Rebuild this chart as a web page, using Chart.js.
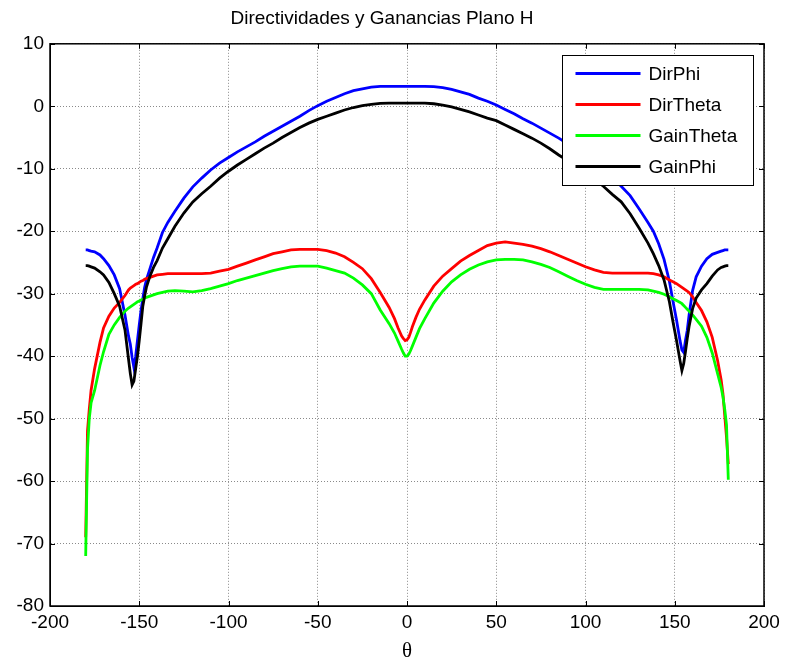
<!DOCTYPE html>
<html>
<head>
<meta charset="utf-8">
<title>Directividades y Ganancias Plano H</title>
<script src="https://cdn.jsdelivr.net/npm/chart.js@4/dist/chart.umd.min.js"></script>
<style>
  body { margin: 0; background: #fff; }
  canvas { display: block; }
</style>
</head>
<body>
<canvas id="chart" width="785" height="664"></canvas>
<script>
// angle in degrees (denser around the nulls and the ends)
const theta = [
  -180, -179, -178, -177, -175, -172, -170, -167, -164, -161,
  -158, -156, -155, -154, -153, -152, -151, -150, -149, -148,
  -147, -146, -144, -142, -140, -137, -134, -130, -125, -120,
  -115, -110, -105, -100, -95, -90, -85, -80, -75, -70,
  -65, -60, -55, -50, -45, -40, -35, -30, -25, -20,
  -15, -10, -7, -5, -3, -2, -1, 0, 1, 2,
  3, 5, 7, 10, 15, 20, 25, 30, 35, 40,
  45, 50, 55, 60, 65, 70, 75, 80, 85, 90,
  95, 100, 105, 110, 115, 120, 125, 130, 135, 138,
  141, 144, 147, 149, 151, 153, 154, 155, 156, 157,
  158, 160, 162, 165, 168, 171, 174, 176, 177, 178,
  179, 180
];

const dirPhi = [
  -23, -23, -23.1, -23.2, -23.3, -23.8, -24.4, -25.5, -27, -29.2,
  -33.4, -36.8, -38.1, -40.2, -41.8, -40, -37.5, -35, -32.7, -30.8,
  -29, -27.8, -26, -24.2, -22.7, -20.2, -18.6, -16.8, -14.7, -12.9,
  -11.5, -10.2, -9.1, -8.2, -7.3, -6.5, -5.7, -4.8, -4, -3.2,
  -2.4, -1.6, -0.7, 0.1, 0.8, 1.4, 2, 2.5, 2.8, 3.05,
  3.2, 3.2, 3.2, 3.2, 3.2, 3.2, 3.2, 3.2, 3.2, 3.2,
  3.2, 3.2, 3.2, 3.2, 3.15, 3, 2.7, 2.3, 1.9, 1.3,
  0.8, 0.2, -0.5, -1.2, -2, -2.7, -3.5, -4.3, -5.1, -6,
  -7, -8, -9, -10.2, -11.4, -12.8, -14.3, -16.4, -18.6, -20,
  -22, -24.5, -28, -31.2, -34.2, -37.6, -39, -39.4, -37.5, -35.9,
  -33.5, -29.5, -27.3, -25.6, -24.4, -23.7, -23.4, -23.2, -23.1, -23,
  -23, -23
];

const dirTheta = [
  -69, -52, -48.5, -45.5, -42, -37.8, -35.5, -33.6, -32.3, -31.4,
  -30.3, -29.4, -29.1, -28.9, -28.7, -28.5, -28.4, -28.2, -28, -27.9,
  -27.7, -27.6, -27.4, -27.2, -27, -26.9, -26.8, -26.8, -26.8, -26.8,
  -26.8, -26.7, -26.4, -26.1, -25.6, -25.1, -24.6, -24.1, -23.6, -23.3,
  -23, -22.9, -22.9, -22.9, -23.1, -23.5, -24.1, -25, -26, -27.6,
  -29.8, -32.2, -34, -35.5, -36.8, -37.2, -37.5, -37.4, -37, -36.2,
  -35.3, -33.8, -32.5, -31, -28.8, -27.2, -26, -24.8, -23.9, -23.1,
  -22.3, -21.9, -21.7, -21.9, -22.1, -22.4, -22.8, -23.3, -23.9, -24.5,
  -25.1, -25.7, -26.2, -26.6, -26.7, -26.7, -26.7, -26.7, -26.7, -26.8,
  -27, -27.3, -27.8, -28.1, -28.4, -28.8, -29, -29.2, -29.4, -29.6,
  -29.8, -30.5, -31.4, -32.7, -34.5, -37, -40.7, -43.8, -46, -49.5,
  -53, -57.3
];

const gainTheta = [
  -72, -55, -50, -47.5, -45.5, -41.5, -39.3, -36.5, -35, -33.8,
  -32.8, -32.3, -32.1, -31.9, -31.7, -31.5, -31.3, -31.2, -31, -30.9,
  -30.7, -30.6, -30.4, -30.2, -30, -29.8, -29.6, -29.5, -29.6, -29.7,
  -29.5, -29.2, -28.8, -28.4, -27.9, -27.5, -27.1, -26.7, -26.3, -26,
  -25.7, -25.6, -25.6, -25.6, -25.9, -26.3, -26.7, -27.5, -28.6, -30,
  -32.6, -34.8, -36.3, -37.6, -38.9, -39.5, -40, -40, -39.7, -39.1,
  -38.4, -37, -35.6, -34, -31.5, -29.6, -28.1, -27, -26.1, -25.4,
  -24.9, -24.6, -24.5, -24.5, -24.6, -24.9, -25.3, -25.8, -26.5, -27.2,
  -27.9, -28.5, -29, -29.3, -29.3, -29.3, -29.3, -29.3, -29.4, -29.6,
  -29.8, -30.1, -30.5, -30.8, -31.1, -31.4, -31.6, -31.9, -32.2, -32.5,
  -32.8, -33.4, -34.1, -35.2, -37, -39.5, -42.8, -45, -46.5, -48.5,
  -51, -59.8
];

const gainPhi = [
  -25.5, -25.5, -25.6, -25.7, -25.9, -26.5, -27, -28.2, -30, -32,
  -35.8, -40.5, -42.8, -44.6, -44, -42, -40, -37.5, -34.8, -32,
  -30.4, -29, -27.2, -25.8, -24.7, -22.7, -21.2, -19.2, -17.1, -15.3,
  -14, -12.8, -11.5, -10.4, -9.4, -8.5, -7.6, -6.7, -5.9, -5,
  -4.2, -3.4, -2.7, -2.1, -1.6, -1.1, -0.6, -0.2, 0.1, 0.3,
  0.45, 0.5, 0.5, 0.5, 0.5, 0.5, 0.5, 0.5, 0.5, 0.5,
  0.5, 0.5, 0.5, 0.5, 0.4, 0.2, -0.1, -0.5, -0.9, -1.4,
  -1.9, -2.3, -3, -3.7, -4.4, -5.1, -5.9, -6.8, -7.8, -8.7,
  -9.8, -10.8, -11.8, -12.8, -14.1, -15.3, -17.2, -19.5, -21.9, -23.6,
  -25.5, -27.8, -31.3, -34.5, -37.5, -40.8, -42.3, -41.2, -39.3, -37.2,
  -35.3, -32.4, -30.7, -29.4, -28.4, -27.2, -26.2, -25.8, -25.7, -25.6,
  -25.5, -25.5
];

const seriesNames = ["DirPhi", "DirTheta", "GainTheta", "GainPhi"];
const seriesColors = ["#0000ff", "#ff0000", "#00ff00", "#000000"];
const seriesValues = [dirPhi, dirTheta, gainTheta, gainPhi];

const xTicks = { min: -200, max: 200, step: 50 };
const yTicks = { min: -80, max: 10, step: 10 };

const FONT = "'Liberation Sans', Arial, sans-serif";

function points(values) {
  return theta.map((t, i) => ({ x: t, y: values[i] }));
}

// box round the plot, inward ticks on all four sides, and the legend
const matlabFrame = {
  id: "matlabFrame",
  afterDraw(chart) {
    const ctx = chart.ctx;
    const area = chart.chartArea;
    const xs = chart.scales.x;
    const ys = chart.scales.y;

    ctx.save();
    ctx.strokeStyle = "#000";
    ctx.lineWidth = 1;
    ctx.beginPath();
    xs.ticks.forEach((t) => {
      const px = Math.round(xs.getPixelForValue(t.value)) + 0.5;
      ctx.moveTo(px, area.bottom);
      ctx.lineTo(px, area.bottom - 5);
      ctx.moveTo(px, area.top);
      ctx.lineTo(px, area.top + 5);
    });
    ys.ticks.forEach((t) => {
      const py = Math.round(ys.getPixelForValue(t.value)) + 0.5;
      ctx.moveTo(area.left, py);
      ctx.lineTo(area.left + 5, py);
      ctx.moveTo(area.right, py);
      ctx.lineTo(area.right - 5, py);
    });
    ctx.stroke();
    ctx.lineWidth = 1.5;
    ctx.strokeRect(area.left, area.top, area.right - area.left, area.bottom - area.top);

    // legend
    const boxW = 191;
    const boxH = 130;
    const bx = Math.round(area.right - 11 - boxW) + 0.5;
    const by = Math.round(area.top + 11) + 0.5;
    ctx.fillStyle = "#fff";
    ctx.fillRect(bx, by, boxW, boxH);
    ctx.lineWidth = 1;
    ctx.strokeStyle = "#000";
    ctx.strokeRect(bx, by, boxW, boxH);

    ctx.font = "19px " + FONT;
    ctx.textBaseline = "middle";
    ctx.textAlign = "left";
    chart.data.datasets.forEach((ds, i) => {
      const rowY = by + 18 + i * 31;
      ctx.strokeStyle = ds.borderColor;
      ctx.lineWidth = 3;
      ctx.beginPath();
      ctx.moveTo(bx + 13, rowY);
      ctx.lineTo(bx + 78, rowY);
      ctx.stroke();
      ctx.fillStyle = "#000";
      ctx.fillText(ds.label, bx + 86, rowY + 1);
    });
    ctx.restore();
  }
};

new Chart(document.getElementById("chart"), {
  type: "line",
  data: {
    datasets: seriesNames.map((name, i) => ({
      label: name,
      data: points(seriesValues[i]),
      borderColor: seriesColors[i],
      backgroundColor: seriesColors[i],
      borderWidth: 2.8,
      pointRadius: 0,
      tension: 0,
      fill: false,
      order: seriesNames.length - i
    }))
  },
  options: {
    responsive: false,
    animation: false,
    layout: { padding: { top: 0, right: 21, left: 0, bottom: 0 } },
    plugins: {
      legend: { display: false },
      tooltip: { enabled: false },
      title: {
        display: true,
        text: "Directividades y Ganancias Plano H",
        color: "#000",
        font: { family: FONT, size: 19, weight: "normal" },
        padding: { top: 7, bottom: 14 }
      }
    },
    scales: {
      x: {
        type: "linear",
        min: xTicks.min,
        max: xTicks.max,
        ticks: {
          stepSize: xTicks.step,
          color: "#000",
          padding: 5,
          font: { family: FONT, size: 19 }
        },
        grid: { color: "#8a8a8a", lineWidth: 1, drawTicks: false },
        border: { display: true, color: "#000", dash: [1, 2] },
        title: {
          display: true,
          text: "θ",
          color: "#000",
          font: { family: "'Liberation Serif', 'Times New Roman', serif", size: 21 },
          padding: { top: 0, bottom: 0 }
        },
        afterFit(scale) { scale.height = 58; }
      },
      y: {
        min: yTicks.min,
        max: yTicks.max,
        ticks: {
          stepSize: yTicks.step,
          color: "#000",
          padding: 6,
          font: { family: FONT, size: 19 }
        },
        grid: { color: "#8a8a8a", lineWidth: 1, drawTicks: false },
        border: { display: true, color: "#000", dash: [1, 2] },
        afterFit(scale) { scale.width = 50; }
      }
    }
  },
  plugins: [matlabFrame]
});
</script>
</body>
</html>
